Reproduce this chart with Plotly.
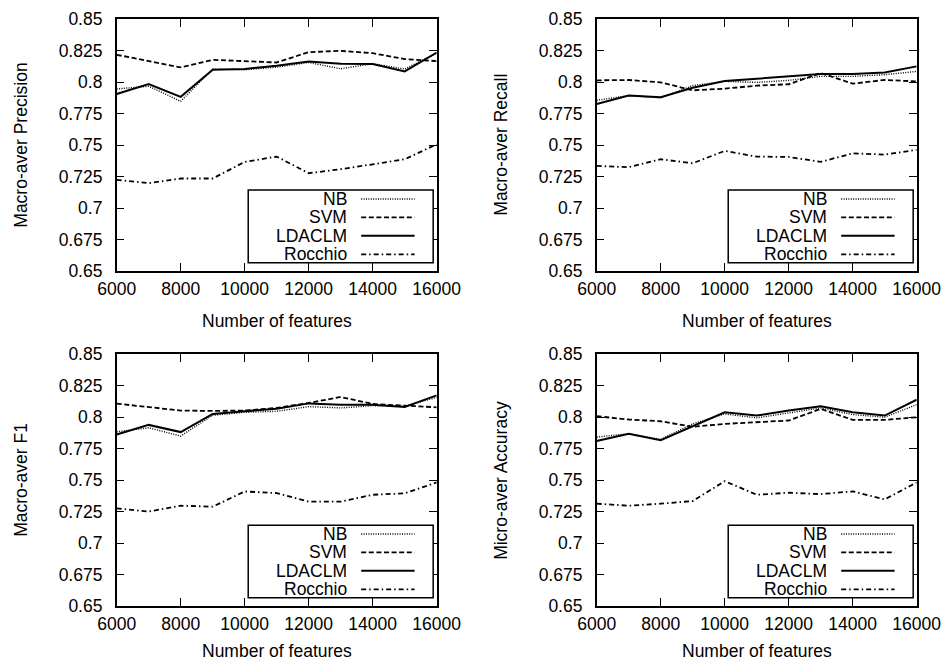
import plotly.graph_objects as go
from plotly.subplots import make_subplots

# ---------------- data ----------------
features = [6000, 7000, 8000, 9000, 10000, 11000, 12000, 13000, 14000, 15000, 16000]
methods = ["NB", "SVM", "LDACLM", "Rocchio"]

prec_nb = [0.7945, 0.7966, 0.7847, 0.8103, 0.8097, 0.8118, 0.8155, 0.8105, 0.8145, 0.8103, 0.8229]
prec_svm = [0.8216, 0.8165, 0.8116, 0.8176, 0.8168, 0.8155, 0.8237, 0.8247, 0.8229, 0.8182, 0.8166]
prec_ldaclm = [0.7905, 0.7984, 0.7882, 0.8097, 0.8103, 0.8129, 0.8163, 0.8145, 0.8142, 0.8084, 0.8234]
prec_rocchio = [0.7224, 0.7197, 0.7234, 0.7234, 0.7366, 0.7408, 0.7276, 0.7308, 0.7347, 0.7387, 0.7505]

rec_nb = [0.7855, 0.7892, 0.7874, 0.7971, 0.8005, 0.7997, 0.8013, 0.8045, 0.8045, 0.8058, 0.8084]
rec_svm = [0.8013, 0.8016, 0.7997, 0.7934, 0.7947, 0.7971, 0.7982, 0.8071, 0.7987, 0.8016, 0.8005]
rec_ldaclm = [0.7826, 0.7892, 0.7879, 0.7955, 0.8008, 0.8026, 0.8050, 0.8063, 0.8063, 0.8076, 0.8124]
rec_rocchio = [0.7334, 0.7324, 0.7387, 0.7355, 0.7453, 0.7408, 0.7405, 0.7366, 0.7434, 0.7424, 0.7461]

f1_nb = [0.7884, 0.7916, 0.7850, 0.8016, 0.8039, 0.8047, 0.8084, 0.8074, 0.8092, 0.8087, 0.8158]
f1_svm = [0.8108, 0.8079, 0.8053, 0.8050, 0.8053, 0.8074, 0.8113, 0.8161, 0.8105, 0.8092, 0.8079]
f1_ldaclm = [0.7863, 0.7939, 0.7882, 0.8026, 0.8047, 0.8068, 0.8110, 0.8100, 0.8100, 0.8082, 0.8174]
f1_rocchio = [0.7276, 0.7250, 0.7297, 0.7289, 0.7410, 0.7397, 0.7329, 0.7329, 0.7384, 0.7395, 0.7482]

acc_nb = [0.7842, 0.7868, 0.7824, 0.7947, 0.8026, 0.7995, 0.8034, 0.8074, 0.8021, 0.8000, 0.8100]
acc_svm = [0.8008, 0.7982, 0.7968, 0.7924, 0.7947, 0.7961, 0.7974, 0.8066, 0.7979, 0.7979, 0.8000]
acc_ldaclm = [0.7811, 0.7868, 0.7818, 0.7929, 0.8039, 0.8013, 0.8053, 0.8087, 0.8039, 0.8013, 0.8139]
acc_rocchio = [0.7313, 0.7297, 0.7313, 0.7334, 0.7492, 0.7384, 0.7400, 0.7389, 0.7411, 0.7347, 0.7482]

y_titles = ["Macro-aver Precision", "Macro-aver Recall", "Macro-aver F1", "Micro-aver Accuracy"]
x_title = "Number of features"

x_tickvals = [6000, 8000, 10000, 12000, 14000, 16000]
x_ticktext = ["6000", "8000", "10000", "12000", "14000", "16000"]
y_tickvals = [0.65, 0.675, 0.7, 0.725, 0.75, 0.775, 0.8, 0.825, 0.85]
y_ticktext = ["0.65", "0.675", "0.7", "0.725", "0.75", "0.775", "0.8", "0.825", "0.85"]

panels = [
    [prec_nb, prec_svm, prec_ldaclm, prec_rocchio],
    [rec_nb, rec_svm, rec_ldaclm, rec_rocchio],
    [f1_nb, f1_svm, f1_ldaclm, f1_rocchio],
    [acc_nb, acc_svm, acc_ldaclm, acc_rocchio],
]

# ---------------- styles ----------------
styles = [
    dict(width=1.4, dash="1px,1.4px"),
    dict(width=1.8, dash="5px,2.6px"),
    dict(width=2.0, dash="solid"),
    dict(width=1.8, dash="5px,3px,1.5px,3px"),
]
FONT = "Liberation Sans, Arial, sans-serif"
W, H = 947, 663

fig = make_subplots(rows=2, cols=2)

x_domains = [[116.7 / W, 436.7 / W], [596.7 / W, 916.7 / W]]
y_domains = [[1 - 271 / H, 1 - 19 / H], [1 - 606 / H, 1 - 354.3 / H]]
x_title_shift = [-50, -45]

for p, series in enumerate(panels):
    r, c = p // 2 + 1, p % 2 + 1
    for m, vals in enumerate(series):
        fig.add_trace(
            go.Scatter(x=features, y=vals, mode="lines", name=methods[m],
                       line=dict(color="black", **styles[m]), showlegend=False),
            row=r, col=c,
        )

axis_common = dict(showline=True, linecolor="black", linewidth=1.5, mirror="allticks",
                   ticks="inside", ticklen=8, tickwidth=1.2, tickcolor="black",
                   showgrid=False, zeroline=False, automargin=False,
                   tickfont=dict(family=FONT, size=17.5, color="black"))

shapes = []
annotations = []
for p in range(4):
    r, c = p // 2, p % 2
    sx = "" if p == 0 else str(p + 1)
    fig.layout["xaxis" + sx].update(domain=x_domains[c], range=[6000, 16000],
                                    tickvals=x_tickvals, ticktext=x_ticktext,
                                    ticklabelstandoff=1, **axis_common)
    fig.layout["yaxis" + sx].update(domain=y_domains[r], range=[0.65, 0.85],
                                    tickvals=y_tickvals, ticktext=y_ticktext,
                                    ticklabelstandoff=9, **axis_common)
    xr = "x" + sx + " domain"
    yr = "y" + sx + " domain"
    # axis titles
    annotations.append(dict(text=x_title, xref=xr, yref=yr, x=0.5, y=0, yshift=x_title_shift[r],
                            xanchor="center", yanchor="middle", showarrow=False,
                            font=dict(family=FONT, size=17.5, color="black")))
    annotations.append(dict(text=y_titles[p], xref=xr, yref=yr, x=0, y=0.5, xshift=-96,
                            textangle=-90, xanchor="center", yanchor="middle", showarrow=False,
                            font=dict(family=FONT, size=17.5, color="black")))
    # legend box
    shapes.append(dict(type="rect", xref=xr, yref=yr, x0=0.411, x1=0.989, y0=0.033, y1=0.321,
                       line=dict(color="black", width=1.5), fillcolor="white", layer="above"))
    rows_y = [0.286, 0.213, 0.140, 0.066]
    for m in range(4):
        shapes.append(dict(type="line", xref=xr, yref=yr, x0=0.764, x1=0.931,
                           y0=rows_y[m], y1=rows_y[m], layer="above",
                           line=dict(color="black", width=styles[m]["width"], dash=styles[m]["dash"])))
        annotations.append(dict(text=methods[m], xref=xr, yref=yr, x=0.727, y=rows_y[m],
                                xanchor="right", yanchor="middle", showarrow=False,
                                font=dict(family=FONT, size=17.5, color="black")))

fig.update_layout(width=W, height=H, margin=dict(l=0, r=0, t=0, b=0, autoexpand=False),
                  paper_bgcolor="white", plot_bgcolor="white",
                  shapes=shapes, annotations=annotations, showlegend=False,
                  font=dict(family=FONT, color="black"))

fig.write_html("out.html", config={"displayModeBar": False},
               post_script="document.body.style.margin='0';")
